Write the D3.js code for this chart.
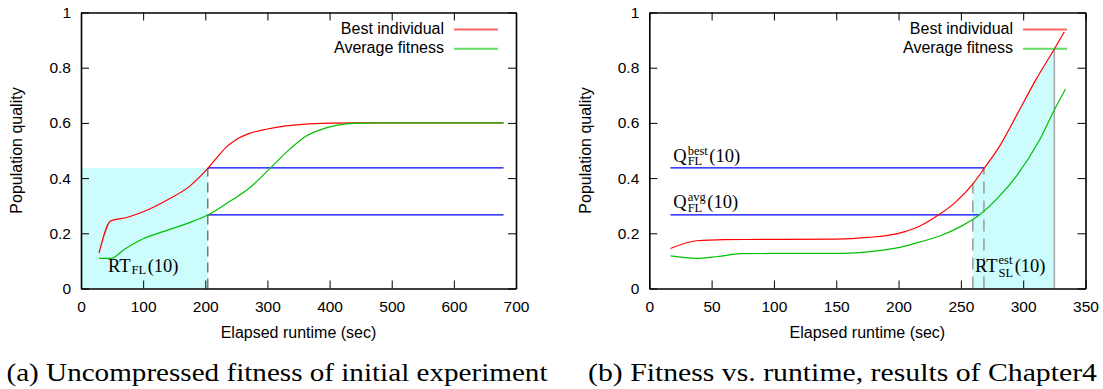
<!DOCTYPE html>
<html>
<head>
<meta charset="utf-8">
<script src="https://cdn.jsdelivr.net/npm/d3@7/dist/d3.min.js"></script>
<style>
  body { margin: 0; background: #fff; }
  svg text { font-family: "Liberation Sans", Arial, sans-serif; fill: #000; }
  .serif { font-family: "Liberation Serif", "Times New Roman", serif !important; }
</style>
</head>
<body>
<svg id="chart" width="1103" height="389"></svg>
<script>
// ---- data ----
var yTicks = [0, 0.2, 0.4, 0.6, 0.8, 1];
var leftXTicks = [0, 100, 200, 300, 400, 500, 600, 700];
var rightXTicks = [0, 50, 100, 150, 200, 250, 300, 350];
var legendLabels = ["Best individual", "Average fitness"];

var leftBest = [[29,0.128],[48,0.245],[75,0.258],[100,0.278],[138,0.32],[175,0.371],[204,0.435],
                [220,0.478],[235,0.515],[250,0.54],[270,0.561],[300,0.578],[330,0.589],[357,0.595],
                [400,0.599],[450,0.6],[550,0.6],[680,0.6]];
var leftAvg = [[29,0.109],[48,0.109],[70,0.142],[100,0.18],[132,0.206],[170,0.235],[204,0.266],
               [239,0.315],[270,0.362],[305,0.437],[336,0.505],[362,0.552],[384,0.574],
               [411,0.591],[437,0.598],[480,0.6],[580,0.6],[680,0.6]];
var rightBest = [[17,0.145],[38,0.173],[60,0.177],[100,0.178],[150,0.179],[175,0.185],[200,0.2],
                 [215,0.222],[232,0.266],[246,0.314],[260,0.381],[269,0.437],[281,0.515],
                 [295,0.63],[310,0.755],[325,0.868],[333,0.93]];
var rightAvg = [[17,0.118],[38,0.109],[55,0.116],[73,0.126],[100,0.127],[150,0.127],[175,0.133],
                [200,0.148],[220,0.172],[233,0.19],[250,0.225],[265,0.267],[280,0.33],
                [295,0.41],[313,0.537],[325,0.647],[334,0.723]];

var leftRT = 204, leftQBest = 0.437, leftQAvg = 0.267, leftLineEnd = 680;
var rightQStart = 17, rightQBest = 0.437, rightQAvg = 0.267;
var rightQBestEnd = 268.5, rightQAvgEnd = 265;
var rightRTStart = 259.6, rightRTBest = 268.5, rightRTEnd = 325;

var captions = ["(a) Uncompressed fitness of initial experiment", "(b) Fitness vs. runtime, results of Chapter4"];

// ---- drawing ----
var svg = d3.select("#chart");
var plotTop = 12.5, plotBottom = 288.5;
var y = d3.scaleLinear().domain([0, 1]).range([plotBottom, plotTop]);

function interp(data, xv) {
  for (var i = 1; i < data.length; i++) {
    if (xv <= data[i][0]) {
      var a = data[i-1], b = data[i], t = (xv - a[0]) / (b[0] - a[0]);
      return a[1] + t * (b[1] - a[1]);
    }
  }
  return data[data.length-1][1];
}

function panel(opt) {
  var x = d3.scaleLinear().domain(opt.xDomain).range(opt.xRange);
  var g = svg.append("g");
  var line = d3.line().x(function(d){return x(d[0]);}).y(function(d){return y(d[1]);}).curve(d3.curveMonotoneX);

  opt.under(g, x, line);

  g.append("path").datum(opt.best).attr("d", line).attr("fill", "none").attr("stroke", "#ff0000").attr("stroke-width", 1.2);
  g.append("path").datum(opt.avg).attr("d", line).attr("fill", "none").attr("stroke", "#00c000").attr("stroke-width", 1.2);

  // axes, gnuplot style: inward ticks, mirrored on top / right
  var fmt = function(d){ return String(d); };
  var bx = g.append("g").attr("transform", "translate(0," + plotBottom + ")")
    .call(d3.axisBottom(x).tickValues(opt.xTicks).tickSize(-8).tickSizeOuter(0).tickPadding(12).tickFormat(fmt));
  var tx = g.append("g").attr("transform", "translate(0," + plotTop + ")")
    .call(d3.axisTop(x).tickValues(opt.xTicks).tickSize(-8).tickSizeOuter(0).tickFormat(""));
  var ly = g.append("g").attr("transform", "translate(" + opt.xRange[0] + ",0)")
    .call(d3.axisLeft(y).tickValues(yTicks).tickSize(-8).tickSizeOuter(0).tickPadding(10).tickFormat(fmt));
  var ry = g.append("g").attr("transform", "translate(" + opt.xRange[1] + ",0)")
    .call(d3.axisRight(y).tickValues(yTicks).tickSize(-8).tickSizeOuter(0).tickFormat(""));
  [bx, tx, ly, ry].forEach(function(a) {
    a.select(".domain").attr("stroke", "#000").attr("stroke-width", 1.6);
    a.selectAll(".tick line").attr("stroke", "#000").attr("stroke-width", 1);
    a.selectAll("text").style("font-size", "15.5px").style("font-family", "'Liberation Sans', Arial, sans-serif");
  });

  // axis titles
  var cx = (opt.xRange[0] + opt.xRange[1]) / 2;
  g.append("text").attr("x", cx).attr("y", 338).attr("text-anchor", "middle")
    .style("font-size", "16px").text("Elapsed runtime (sec)");
  g.append("text").attr("transform", "translate(" + opt.yTitleX + "," + ((plotTop + plotBottom) / 2) + ") rotate(-90)")
    .attr("text-anchor", "middle").style("font-size", "16px").text("Population quality");

  // legend
  var colors = ["#ff0000", "#00c000"];
  legendLabels.forEach(function(lab, i) {
    var by = 34 + i * 19.3;
    g.append("text").attr("x", opt.legendX).attr("y", by).attr("text-anchor", "end")
      .style("font-size", "16px").text(lab);
    g.append("line").attr("x1", opt.legendX + 10).attr("x2", opt.legendX + 54)
      .attr("y1", by - 4.5).attr("y2", by - 4.5)
      .attr("stroke", colors[i]).attr("stroke-width", 2).attr("stroke-opacity", 0.6);
  });

  // caption
  g.append("text").attr("class", "serif").attr("x", opt.capX).attr("y", 381)
    .attr("textLength", opt.capW).attr("lengthAdjust", "spacingAndGlyphs")
    .style("font-size", "26px").text(opt.caption);

  return {g: g, x: x};
}

function mathLabel(g, x0, by, base, sup, sub, supDy, subDy) {
  var t = g.append("text").attr("class", "serif").attr("x", x0).attr("y", by).style("font-size", "18.5px").text(base);
  var xx = x0 + t.node().getComputedTextLength() + 1;
  var w = 0;
  if (sup) {
    var s = g.append("text").attr("class", "serif").attr("x", xx).attr("y", by + supDy).style("font-size", "12.5px").text(sup);
    w = Math.max(w, s.node().getComputedTextLength());
  }
  if (sub) {
    var b = g.append("text").attr("class", "serif").attr("x", xx).attr("y", by + subDy).style("font-size", "12.5px").text(sub);
    w = Math.max(w, b.node().getComputedTextLength());
  }
  g.append("text").attr("class", "serif").attr("x", xx + w + 1.5).attr("y", by).style("font-size", "18.5px").text("(10)");
}

// left panel
var L = panel({
  xDomain: [0, 700], xRange: [81, 516], xTicks: leftXTicks,
  best: leftBest, avg: leftAvg, yTitleX: 21.5, legendX: 444,
  capX: 6.5, capW: 541, caption: captions[0],
  under: function(g, x, line) {
    g.append("rect").attr("x", x(0)).attr("y", y(leftQBest))
      .attr("width", x(leftRT) - x(0)).attr("height", y(0) - y(leftQBest)).attr("fill", "#ccfcfc");
    g.append("line").attr("x1", x(leftRT)).attr("x2", x(leftRT)).attr("y1", y(0)).attr("y2", y(leftQBest))
      .attr("stroke", "#707070").attr("stroke-width", 1.4).attr("stroke-dasharray", "10,6");
    [leftQBest, leftQAvg].forEach(function(q) {
      g.append("line").attr("x1", x(leftRT)).attr("x2", x(leftLineEnd)).attr("y1", y(q)).attr("y2", y(q))
        .attr("stroke", "#0000ff").attr("stroke-width", 1.3);
    });
  }
});
mathLabel(L.g, 108, 272, "RT", null, "FL", 0, 1.5);

// right panel
var R = panel({
  xDomain: [0, 350], xRange: [649.3, 1085.5], xTicks: rightXTicks,
  best: rightBest, avg: rightAvg, yTitleX: 591, legendX: 1013,
  capX: 588, capW: 509, caption: captions[1],
  under: function(g, x, line) {
    svg.append("defs").append("clipPath").attr("id", "rtClip").append("rect")
      .attr("x", x(rightRTStart)).attr("y", 0).attr("width", x(rightRTEnd) - x(rightRTStart)).attr("height", 389);
    var area = d3.area().x(function(d){return x(d[0]);}).y0(y(0)).y1(function(d){return y(d[1]);}).curve(d3.curveMonotoneX);
    g.append("path").datum(rightBest).attr("d", area).attr("fill", "#ccfcfc").attr("clip-path", "url(#rtClip)");
    g.append("line").attr("x1", x(rightRTStart)).attr("x2", x(rightRTStart)).attr("y1", y(0)).attr("y2", y(interp(rightBest, rightRTStart)))
      .attr("stroke", "#a0a0a0").attr("stroke-width", 1.6).attr("stroke-dasharray", "12,7");
    g.append("line").attr("x1", x(rightRTBest)).attr("x2", x(rightRTBest)).attr("y1", y(0)).attr("y2", y(rightQBest))
      .attr("stroke", "#a0a0a0").attr("stroke-width", 1.6).attr("stroke-dasharray", "12,7");
    g.append("line").attr("x1", x(rightRTEnd)).attr("x2", x(rightRTEnd)).attr("y1", y(0)).attr("y2", y(interp(rightBest, rightRTEnd)))
      .attr("stroke", "#a8a8a8").attr("stroke-width", 1.6);
    g.append("line").attr("x1", x(rightQStart)).attr("x2", x(rightQBestEnd)).attr("y1", y(rightQBest)).attr("y2", y(rightQBest))
      .attr("stroke", "#0000ff").attr("stroke-width", 1.3);
    g.append("line").attr("x1", x(rightQStart)).attr("x2", x(rightQAvgEnd)).attr("y1", y(rightQAvg)).attr("y2", y(rightQAvg))
      .attr("stroke", "#0000ff").attr("stroke-width", 1.3);
  }
});
mathLabel(R.g, 673.3, 161.5, "Q", "best", "FL", -7, 3.5);
mathLabel(R.g, 673.3, 208.3, "Q", "avg", "FL", -7, 3.5);
mathLabel(R.g, 975, 272.3, "RT", "est", "SL", -8.5, 4.4);
</script>
</body>
</html>
